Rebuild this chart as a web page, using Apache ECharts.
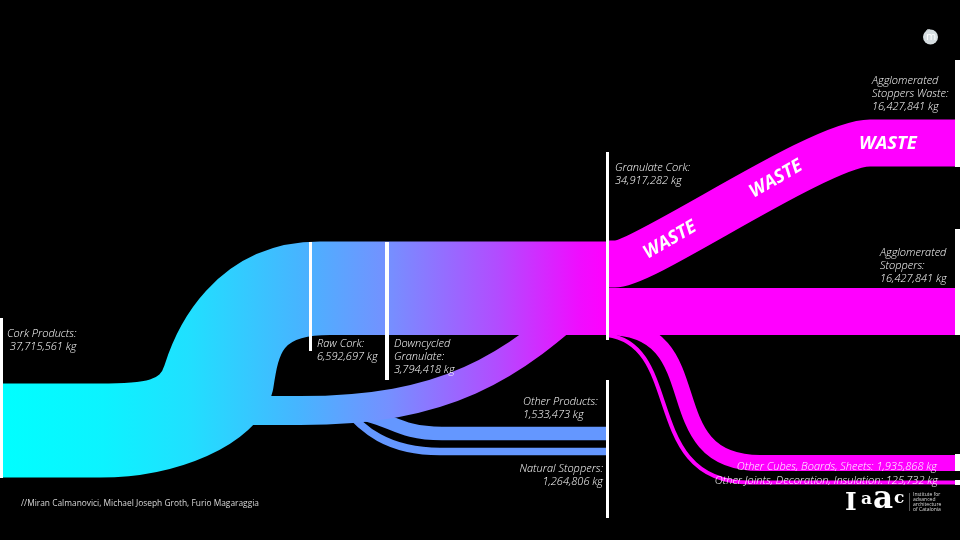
<!DOCTYPE html>
<html><head><meta charset="utf-8">
<style>html,body{margin:0;background:#000}#c{width:960px;height:540px}</style>
<script src="https://cdn.jsdelivr.net/npm/echarts@6/dist/echarts.min.js"></script>
</head><body><div id="c"></div>
<script>
// Flow bands: stage axis 0-96, mass axis 0-216 (million kg).
const flowNames = ['Natural Stoppers','Other Products','Downcycled Granulate','Cork to Raw Cork core','Cork to Waste stream','Cork to Agglomerated stream','Waste','Agglomerated Stoppers','Other Cubes, Boards, Sheets','Other Joints, Decoration, Insulation'];
const flowWidths = [3.0, 5.4, 11.6, 24, 18.8, 18.8, 18.8, 18.8, 6.4, 1.6];
const flowKinds = ['blue','blue','flow','flow','flow','flow','end','end','end','end'];
// each path: [stage, level] start, flat-until, then (control, control, point) repeated, end
const flowPaths = [
  [[34.2,54],[34.2,54],[36.2,44],[38.8,35.4],[44,35.4],[60.7,35.4]],
  [[33.8,51.2],[33.8,51.2],[39,51.2],[39,42.6],[44.2,42.6],[60.7,42.6]],
  [[15,51.8],[30,51.8],[44.5,51.8],[51,68],[59.5,100],[59.5,100]],
  [[0,43.8],[10,43.8],[16.5,43.8],[22.2,54],[22.8,66],[24.1,92],[26.2,100.6],[32.5,100.6],[60.7,100.6]],
  [[0,53.2],[10,53.2],[14.6,53.2],[17.7,54],[18.7,67.2],[19.7,80],[23,110],[32,110],[60.7,110]],
  [[0,34.4],[10,34.4],[17,34.4],[24,46],[25,62],[25.6,78],[26.2,91.4],[33,91.4],[60.7,91.4]],
  [[60.7,110.4],[61.5,110.4],[64.5,110.4],[82,158.8],[87,158.8],[95.5,158.8]],
  [[60.7,91.4],[60.7,91.4],[70,91.4],[70,91.4],[70,91.4],[95.5,91.4]],
  [[60.7,85.2],[60.7,85.2],[71.7,85.2],[65,30.8],[76,30.8],[95.5,30.8]],
  [[60.7,82],[60.7,82],[68.5,78],[64,23],[75,23],[95.5,23]]
];
// Node markers
const nodeNames = ['Cork Products','Raw Cork','Downcycled Granulate','Granulate Cork','Products','Agglomerated Stoppers Waste','Agglomerated Stoppers','Other Cubes','Other Joints'];
const nodeStages = [0.15,31.05,38.7,60.75,60.75,95.75,95.75,95.75,95.75];
const nodeHalfThick = [0.15,0.15,0.2,0.15,0.15,0.25,0.25,0.25,0.25];
const nodeTop = [88.8,119.2,119.2,155.2,64,192,124.4,34.4,24];
const nodeBottom = [24.8,75.6,64,80,8.8,149.2,82,27.6,22];
// Labels
const labelTexts = ['Cork Products:\n 37,715,561 kg','Raw Cork:\n6,592,697 kg','Downcycled\nGranulate:\n3,794,418 kg','Other Products:\n1,533,473 kg','Natural Stoppers:\n 1,264,806 kg','Granulate Cork:\n34,917,282 kg','Agglomerated\nStoppers Waste:\n16,427,841 kg','Agglomerated\nStoppers:\n16,427,841 kg','Other Cubes, Boards, Sheets: 1,935,868 kg','Other Joints, Decoration, Insulation: 125,732 kg'];
const labelStages = [0.7,31.7,39.4,52.3,60.3,61.5,87.2,88,93.7,93.8];
const labelLevels = [85.2,81.2,81.2,58,31.2,151.6,186.4,117.6,32,26.4];
const labelAligns = ['left','left','left','left','right','left','left','left','right','right'];
const wasteStages = [67,77.6,88.8];
const wasteLevels = [120,144.4,158.4];
const wasteAngles = [30,30,0];
const credit = '//Miran Calmanovici, Michael Joseph Groth, Furio Magaraggia';

const gradStops = [[0,'#00ffff'],[0.17,'#0cf3ff'],[0.31,'#20e0ff'],[0.49,'#46b5ff'],[0.64,'#7590ff'],[0.82,'#b24cff'],[0.955,'#f00cff'],[1,'#ff00ff']];
function flowStroke(kind, api){
  if(kind==='end') return '#ff00ff';
  if(kind==='blue') return '#6497ff';
  const a=api.coord([0,0]), b=api.coord([60.7,0]);
  return {type:'linear',global:true,x:a[0],y:0,x2:b[0],y2:0,colorStops:gradStops.map(s=>({offset:s[0],color:s[1]}))};
}
function renderFlow(params, api){
  const i=api.value(0), p=flowPaths[i].map(q=>api.coord(q));
  const lw=api.size([0,flowWidths[i]])[1];
  let d=`M${p[0][0]} ${p[0][1]}L${p[1][0]} ${p[1][1]}`;
  for(let k=2;k+2<p.length;k+=3) d+=`C${p[k][0]} ${p[k][1]} ${p[k+1][0]} ${p[k+1][1]} ${p[k+2][0]} ${p[k+2][1]}`;
  const e=p[p.length-1]; d+=`L${e[0]} ${e[1]}`;
  return {type:'path',shape:{pathData:d},style:{stroke:flowStroke(flowKinds[i],api),lineWidth:lw,fill:'none',lineCap:'butt',lineJoin:'round'}};
}
function renderNode(params, api){
  const i=api.value(0);
  const a=api.coord([nodeStages[i]-nodeHalfThick[i],nodeTop[i]]), b=api.coord([nodeStages[i]+nodeHalfThick[i],nodeBottom[i]]);
  return {type:'rect',shape:{x:a[0],y:a[1],width:b[0]-a[0],height:b[1]-a[1]},style:{fill:'#fff'}};
}
function renderLabel(params, api){
  const i=api.value(0), c=api.coord([labelStages[i],labelLevels[i]]);
  return {type:'text',x:c[0],y:c[1],style:{text:labelTexts[i],fill:'#fff',align:labelAligns[i],verticalAlign:'top',lineHeight:13,font:'italic 300 11px "Open Sans"'}};
}
function renderWaste(params, api){
  const i=api.value(0), c=api.coord([wasteStages[i],wasteLevels[i]]);
  return {type:'text',x:c[0],y:c[1],rotation:wasteAngles[i]*Math.PI/180,style:{text:'WASTE',fill:'#fff',align:'center',verticalAlign:'middle',font:'italic 700 18.5px "Open Sans"'}};
}
const idx=a=>a.map((_,i)=>[i]);
const chart=echarts.init(document.getElementById('c'),null,{renderer:'canvas'});
const logoFont='900 %px "DejaVu Serif"';
chart.setOption({
  animation:false,
  backgroundColor:'#000',
  grid:{left:0,right:0,top:0,bottom:0},
  xAxis:{type:'value',min:0,max:96,show:false},
  yAxis:{type:'value',min:0,max:216,show:false},
  graphic:[
    {type:'text',left:21,top:500,style:{text:credit,fill:'#d8d8d8',font:'8.4px "Open Sans"'}},
    {type:'text',left:845,top:491,style:{text:'I',fill:'#fff',font:logoFont.replace('%','25')}},
    {type:'text',left:861,top:491,style:{text:'a',fill:'#fff',font:logoFont.replace('%','17')}},
    {type:'text',left:873,top:484,style:{text:'a',fill:'#fff',font:logoFont.replace('%','31')}},
    {type:'text',left:894,top:490,style:{text:'c',fill:'#fff',font:logoFont.replace('%','17')}},
    {type:'rect',left:909,top:493,shape:{width:1,height:18},style:{fill:'#555'}},
    {type:'text',left:913,top:492,style:{text:'Institute for\nadvanced\narchitecture\nof Catalonia',fill:'#ddd',lineHeight:5,font:'5px "Open Sans"'}},
    {type:'circle',left:923,top:29.5,shape:{r:7.5},style:{fill:'#d5dde0'}},
    {type:'circle',left:924,top:27,shape:{r:2},style:{fill:'none',stroke:'#d5dde0',lineWidth:1}},
    {type:'text',left:926,top:31,style:{text:'m',fill:'#fff',font:'11px "Open Sans"'}}
  ],
  series:[
    {type:'custom',name:'Flows',coordinateSystem:'cartesian2d',renderItem:renderFlow,data:idx(flowNames),silent:true,z:2},
    {type:'custom',name:'Nodes',coordinateSystem:'cartesian2d',renderItem:renderNode,data:idx(nodeNames),silent:true,z:3},
    {type:'custom',name:'Labels',coordinateSystem:'cartesian2d',renderItem:renderLabel,data:idx(labelTexts),silent:true,z:4},
    {type:'custom',name:'Waste',coordinateSystem:'cartesian2d',renderItem:renderWaste,data:idx(wasteStages),silent:true,z:4}
  ]
});
</script></body></html>
